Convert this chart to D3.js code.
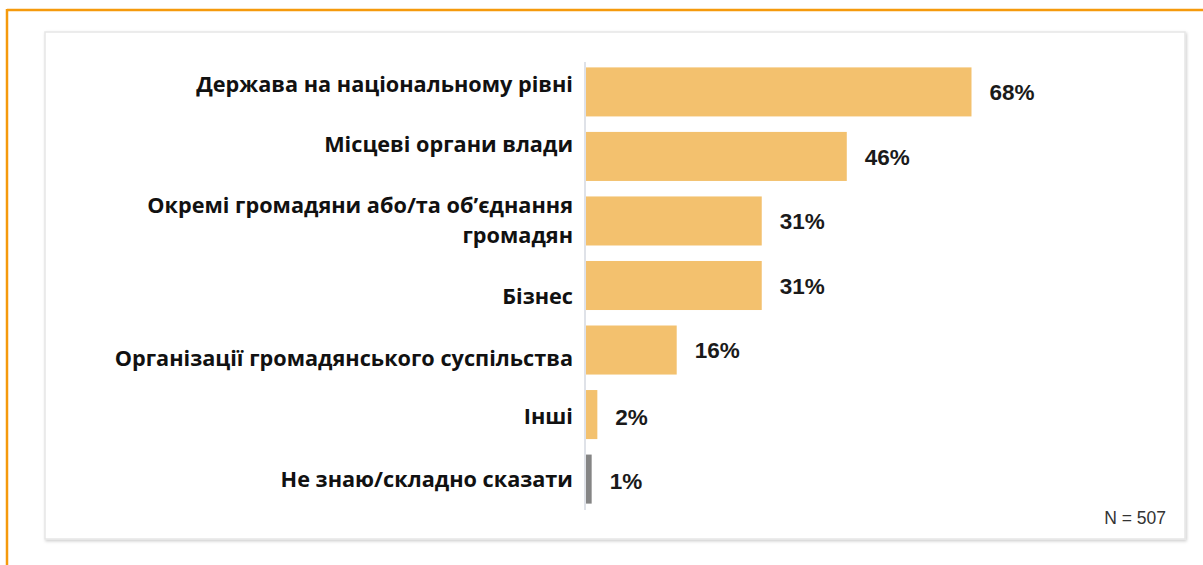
<!DOCTYPE html>
<html>
<head>
<meta charset="utf-8">
<script src="https://cdn.jsdelivr.net/npm/d3@7"></script>
<style>
  html, body { margin: 0; padding: 0; background: #ffffff; }
  svg { display: block; }
</style>
</head>
<body>
<svg id="chart" width="1203" height="565"></svg>
<script>
// Responses: who should be responsible
const categories = [
  "Держава на національному рівні",
  "Місцеві органи влади",
  "Окремі громадяни або/та об’єднання громадян",
  "Бізнес",
  "Організації громадянського суспільства",
  "Інші",
  "Не знаю/складно сказати"
];
// Label lines for the wrapped category
const labelLines = [
  ["Держава на національному рівні"],
  ["Місцеві органи влади"],
  ["Окремі громадяни або/та об’єднання", "громадян"],
  ["Бізнес"],
  ["Організації громадянського суспільства"],
  ["Інші"],
  ["Не знаю/складно сказати"]
];
const values = [68, 46, 31, 31, 16, 2, 1];
const isNeutral = [false, false, false, false, false, false, true];
const sampleNote = "N = 507";

// Vertical nudges (px) of the category labels relative to their bar centres
const labelNudge = [-8, -12, -1, 11, 8, 2, 0];

const svg = d3.select("#chart");

// Outer frame (orange, top and left edges visible)
svg.append("line").attr("x1", 7).attr("x2", 1203).attr("y1", 10).attr("y2", 10)
  .attr("stroke", "#f59a0c").attr("stroke-width", 2.5);
svg.append("line").attr("x1", 7).attr("x2", 7).attr("y1", 9).attr("y2", 565)
  .attr("stroke", "#f59a0c").attr("stroke-width", 2.5);

// Inner panel with soft shadow
const defs = svg.append("defs");
const f = defs.append("filter").attr("id", "shadow").attr("x", "-5%").attr("y", "-5%").attr("width", "110%").attr("height", "110%");
f.append("feDropShadow").attr("dx", 1).attr("dy", 1.5).attr("stdDeviation", 1.5).attr("flood-color", "#000").attr("flood-opacity", 0.2);
svg.append("rect").attr("x", 45).attr("y", 32).attr("width", 1140).attr("height", 507)
  .attr("fill", "#ffffff").attr("stroke", "#e6e6e6").attr("stroke-width", 1.5)
  .attr("filter", "url(#shadow)");

// Scales
const x0 = 586;
const x = d3.scaleLinear().domain([0, 68]).range([x0, 971.5]);
const y = d3.scaleBand().domain(categories).range([59, 512]).paddingInner(0.24).paddingOuter(0.13);

// Axis line
svg.append("line").attr("x1", x0 - 1).attr("x2", x0 - 1).attr("y1", 62).attr("y2", 510)
  .attr("stroke", "#d5d9e0").attr("stroke-width", 1.5);

// Bars
svg.selectAll("rect.bar").data(categories).enter().append("rect")
  .attr("class", "bar")
  .attr("x", x(0))
  .attr("y", d => y(d))
  .attr("width", (d, i) => x(values[i]) - x(0))
  .attr("height", y.bandwidth())
  .attr("fill", (d, i) => isNeutral[i] ? "#858585" : "#f3c16e");

// Value labels
svg.selectAll("text.val").data(categories).enter().append("text")
  .attr("class", "val")
  .attr("x", (d, i) => x(values[i]) + 18)
  .attr("y", (d, i) => y(d) + y.bandwidth() / 2 + (i >= 5 ? 2 : 0))
  .attr("dy", "0.36em")
  .attr("font-family", "Liberation Sans, Arial, sans-serif")
  .attr("font-weight", "bold")
  .attr("font-size", 22.5)
  .attr("fill", "#1a1a1a")
  .text((d, i) => values[i] + "%");

// Category labels
const lab = svg.selectAll("text.cat").data(categories).enter().append("text")
  .attr("class", "cat")
  .attr("text-anchor", "end")
  .attr("font-family", "Open Sans, sans-serif")
  .attr("font-weight", "bold")
  .attr("font-size", 21.7)
  .attr("fill", "#111111");
lab.each(function(d, i) {
  const lines = labelLines[i];
  const cy = y(d) + y.bandwidth() / 2 + labelNudge[i];
  const lh = 30;
  const start = cy - (lines.length - 1) * lh / 2;
  lines.forEach((ln, j) => {
    d3.select(this).append("tspan")
      .attr("x", 573)
      .attr("y", start + j * lh)
      .attr("dy", "0.35em")
      .text(ln);
  });
});

// Sample size note
svg.append("text").attr("x", 1166).attr("y", 524).attr("text-anchor", "end")
  .attr("font-family", "Liberation Sans, Arial, sans-serif")
  .attr("font-size", 17.5).attr("fill", "#333333")
  .text(sampleNote);
</script>
</body>
</html>
